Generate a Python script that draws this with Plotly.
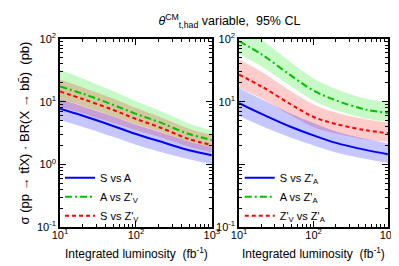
import plotly.graph_objects as go

lumi = [10, 20, 50, 100, 200, 500, 1000]

# Left panel (Z'_V)
L_blue = [7.7, 5.95, 4.1, 3.05, 2.35, 1.68, 1.4]
L_blue_up = [11.0, 8.4, 5.8, 4.3, 3.3, 2.3, 1.88]
L_blue_lo = [5.1, 3.95, 2.75, 2.05, 1.6, 1.2, 1.0]
L_green = [17.5, 13.4, 8.9, 6.4, 4.75, 3.05, 2.45]
L_green_up = [32, 23.5, 14.8, 10.2, 7.3, 4.5, 3.5]
L_green_lo = [11.1, 8.6, 5.9, 4.4, 3.4, 2.3, 1.88]
L_red = [14.5, 11.0, 7.4, 5.3, 3.95, 2.53, 2.03]
L_red_up = [22.6, 16.9, 11.2, 7.9, 5.8, 3.7, 2.93]
L_red_lo = [8.3, 6.5, 4.6, 3.5, 2.75, 1.9, 1.56]

# Right panel (Z'_A)
R_blue = [9.5, 6.4, 3.95, 2.9, 2.2, 1.7, 1.45]
R_blue_up = [16.5, 10.9, 6.4, 4.55, 3.35, 2.55, 2.15]
R_blue_lo = [5.9, 4.1, 2.65, 2.0, 1.55, 1.22, 1.06]
R_green = [92, 57, 26, 15, 10.5, 7.5, 6.6]
R_green_up = [160, 97, 42, 23.5, 16, 11.2, 9.8]
R_green_lo = [57, 36.5, 17.4, 10.3, 7.3, 5.4, 4.8]
R_red = [27, 17.5, 9, 5.7, 4.4, 3.5, 3.15]
R_red_up = [47, 30, 14.6, 9, 6.7, 5.25, 4.65]
R_red_lo = [16.7, 11.2, 6, 3.9, 3.1, 2.5, 2.3]

L_names = ["S vs A", "A vs Z'<sub>V</sub>", "S vs Z'<sub>V</sub>"]
R_names = ["S vs Z'<sub>A</sub>", "A vs Z'<sub>A</sub>", "Z'<sub>V</sub> vs Z'<sub>A</sub>"]

BLUE = "#0000ff"
GREEN = "#00c000"
RED = "#ff0000"
BAND = {"b": "rgba(0,0,255,0.22)", "g": "rgba(0,230,0,0.22)", "r": "rgba(255,0,0,0.2)"}

fig = go.Figure()

def band(lo, up, color, xa, ya):
    fig.add_trace(go.Scatter(x=lumi, y=lo, mode="lines", line=dict(width=0, shape="spline"),
                             showlegend=False, hoverinfo="skip", xaxis=xa, yaxis=ya))
    fig.add_trace(go.Scatter(x=lumi, y=up, mode="lines", line=dict(width=0, shape="spline"),
                             fill="tonexty", fillcolor=color, showlegend=False,
                             hoverinfo="skip", xaxis=xa, yaxis=ya))

for (lo, up, c) in [(L_green_lo, L_green_up, "g"), (L_red_lo, L_red_up, "r"), (L_blue_lo, L_blue_up, "b")]:
    band(lo, up, BAND[c], "x", "y")
for (lo, up, c) in [(R_green_lo, R_green_up, "g"), (R_red_lo, R_red_up, "r"), (R_blue_lo, R_blue_up, "b")]:
    band(lo, up, BAND[c], "x2", "y2")

styles = [(BLUE, "solid"), (GREEN, "7px,3px,2px,3px"), (RED, "4px,3px")]
for ys, nm, (col, dash) in zip([L_blue, L_green, L_red], L_names, styles):
    fig.add_trace(go.Scatter(x=lumi, y=ys, mode="lines", name=nm,
                             line=dict(color=col, width=2, dash=dash, shape="spline"),
                             xaxis="x", yaxis="y", legend="legend"))
for ys, nm, (col, dash) in zip([R_blue, R_green, R_red], R_names, styles):
    fig.add_trace(go.Scatter(x=lumi, y=ys, mode="lines", name=nm,
                             line=dict(color=col, width=2, dash=dash, shape="spline"),
                             xaxis="x2", yaxis="y2", legend="legend2"))

FONT = "Liberation Sans, Arial, sans-serif"
xticks = dict(tickvals=[10, 100, 1000],
              ticktext=["10<sup>1</sup>", "10<sup>2</sup>", "10<sup>3</sup>"],
              ticklabelstandoff=-3, ticklabeloverflow="allow")
axis_common = dict(type="log", showgrid=False, zeroline=False, showline=True,
                   linecolor="black", linewidth=1.5, mirror="ticks", ticks="inside",
                   ticklen=6, tickcolor="black", tickfont=dict(size=11, color="black"),
                   minor=dict(ticks="inside", ticklen=3, dtick="D1", tickcolor="black",
                              showgrid=False))
ymin, ymax = -1, 2

fig.update_layout(
    width=399, height=266,
    margin=dict(l=52, r=11, t=31, b=47),
    paper_bgcolor="white", plot_bgcolor="white",
    font=dict(family=FONT, color="black", size=12),
    title=dict(text="<i>θ</i><sup>CM</sup><sub>t,had</sub> variable,  95% CL",
               x=0.555, xanchor="center", y=0.952, yanchor="middle",
               font=dict(size=12.5)),
    xaxis=dict(domain=[0, 0.463], range=[1, 3], **xticks, **axis_common),
    xaxis2=dict(domain=[0.546, 1], range=[1, 3], **xticks, **axis_common),
    yaxis=dict(range=[ymin, ymax], anchor="x",
               tickvals=[0.1, 1, 10, 100],
               ticktext=["10<sup>-1</sup>", "10<sup>0</sup>", "10<sup>1</sup>", "10<sup>2</sup>"],
               title=dict(text="σ (pp → tt\u0304X) · BR(X → bb\u0304)  (pb)", font=dict(size=13),
                          standoff=4),
               **axis_common),
    yaxis2=dict(range=[ymin, ymax], anchor="x2",
                tickvals=[0.1, 1, 10, 100],
                ticktext=["10<sup>-1</sup>", "", "10<sup>1</sup>", "10<sup>2</sup>"],
                **axis_common),
    legend=dict(x=0.0, y=0.339, xanchor="left", yanchor="top", bgcolor="rgba(0,0,0,0)",
                font=dict(size=11), tracegroupgap=0, itemwidth=30, traceorder="normal"),
    legend2=dict(x=0.548, y=0.339, xanchor="left", yanchor="top", bgcolor="rgba(0,0,0,0)",
                 font=dict(size=11), tracegroupgap=0, itemwidth=30, traceorder="normal"),
    annotations=[
        dict(text="Integrated luminosity  (fb<sup>-1</sup>)", x=0.232, xref="paper",
             xanchor="center", y=-0.14, yref="paper", yanchor="middle", showarrow=False,
             font=dict(size=12)),
        dict(text="Integrated luminosity  (fb<sup>-1</sup>)", x=0.773, xref="paper",
             xanchor="center", y=-0.14, yref="paper", yanchor="middle", showarrow=False,
             font=dict(size=12)),
    ],
)

fig.write_html("out.html")
